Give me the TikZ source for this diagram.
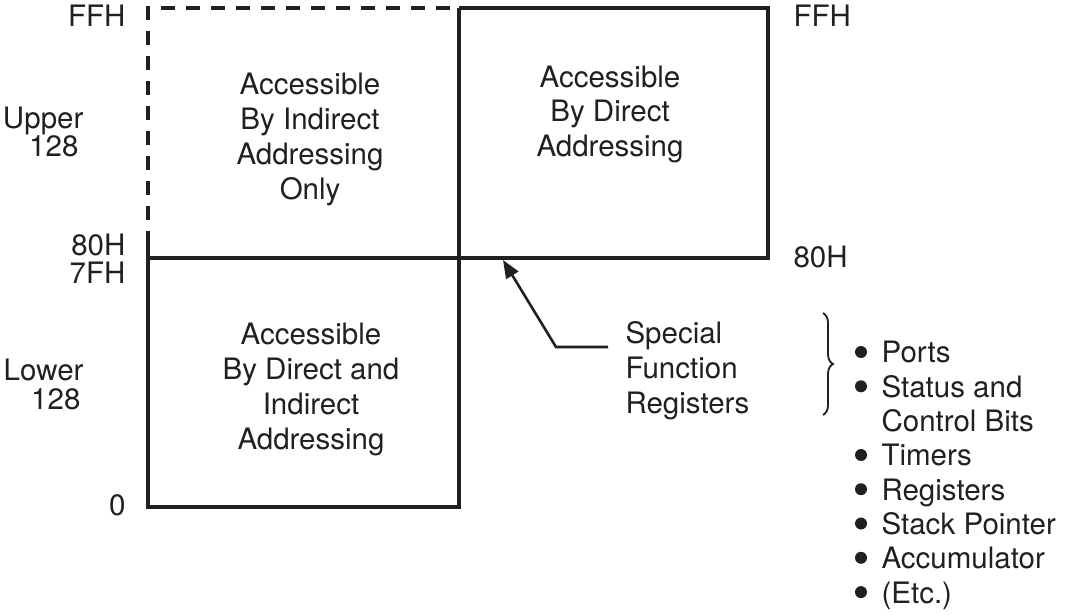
\documentclass[tikz,border=0pt]{standalone}
\usepackage{fontspec}
\setmainfont{TeX Gyre Heros}
\usetikzlibrary{arrows.meta,decorations.pathreplacing}
\definecolor{ink}{RGB}{35,31,32}
\begin{document}
\begin{tikzpicture}[x=1pt,y=-1pt,line width=3.1pt,color=ink,
  lbl/.style={font=\fontsize{29.5}{35}\selectfont,inner sep=0pt,text=ink},
  side/.style={font=\fontsize{29.5}{28.5}\selectfont,inner sep=0pt,text=ink},
  dashline/.style={dash pattern=on 14pt off 11pt},
  bul/.style={circle,fill=ink,inner sep=0pt,minimum size=12pt}]
\useasboundingbox (0,0) rectangle (1065,615);
% frames
\draw[dashline] (148,245) -- (148,8) -- (459,8);
\draw (459,8) -- (768,8) -- (768,258) -- (148,258);
\draw (148,245) -- (148,507) -- (459,507) -- (459,8);
% left labels (multi-line nodes are anchored at the baseline of their last line)
\node[side,anchor=base east] (ffhl) at (127,27) {FFH};
\node[side,anchor=base east,align=right] (upper) at (85,157) {Upper\\128\kern5pt};
\node[side,anchor=base east] (h80l) at (127,255) {80H};
\node[side,anchor=base east] (h7f) at (127,283) {7FH};
\node[side,anchor=base east,align=right] (lower) at (85,409) {Lower\\128\kern3pt};
\node[side,anchor=base east] (zero) at (127,515) {0};
% right labels
\node[side,anchor=base west] (ffhr) at (792,27) {FFH};
\node[side,anchor=base west] (h80r) at (792,267) {80H};
% box texts
\node[lbl,anchor=base,align=center] (ind) at (310,199) {Accessible\\By Indirect\\Addressing\\Only};
\node[lbl,anchor=base,align=center] (dir) at (610,157) {Accessible\\By Direct\\Addressing};
\node[lbl,anchor=base,align=center] (both) at (311,449) {Accessible\\By Direct and\\Indirect\\Addressing};
% special function registers
\node[lbl,anchor=base west,align=left] (sfr) at (624,413) {Special\\Function\\Registers};
\coordinate (atail) at (608,347);
\coordinate (aelbow) at (556,347);
\coordinate (atip) at (503,260);
\draw[line width=2.6pt,-{Triangle[length=18pt,width=14pt]}] (atail) -- (aelbow) -- (atip);
% brace
\draw[line width=1.8pt,decorate,decoration={brace,amplitude=10pt}] (823,313) -- (823,415);
% bullet list
\node[font=\fontsize{29.5}{34.3}\selectfont,inner sep=0pt,text=ink,anchor=base west,align=left] (list) at (880,603)
  {Ports\\Status and\\Control Bits\\Timers\\Registers\\Stack Pointer\\Accumulator\\(Etc.)};
\foreach \i/\yy in {1/352,2/386.3,3/455,4/489.2,5/523.5,6/557.8,7/592.1}
  \node[bul] (b\i) at (861,\yy) {};
\end{tikzpicture}
\end{document}
